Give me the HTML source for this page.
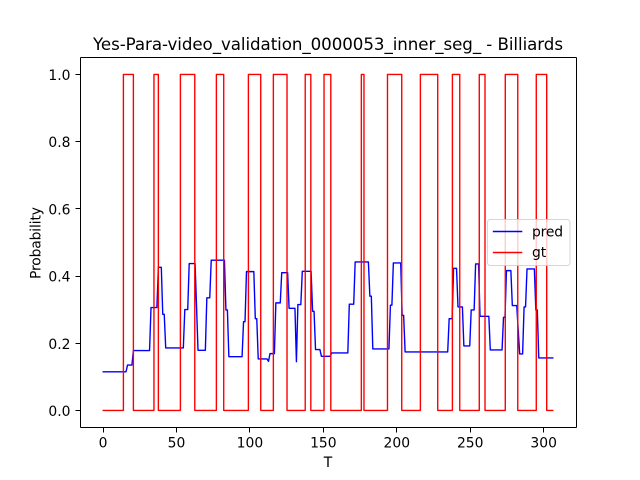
<!DOCTYPE html>
<html lang="en">
<head>
<meta charset="utf-8">
<title>Yes-Para-video_validation_0000053_inner_seg_ - Billiards</title>
<style>
html,body{margin:0;padding:0;background:#fff;width:640px;height:480px;overflow:hidden}
svg{display:block}
text{font-family:"DejaVu Sans","Liberation Sans",sans-serif;fill:#000}
</style>
</head>
<body>
<svg id="chart" xmlns="http://www.w3.org/2000/svg" width="640" height="480" viewBox="0 0 640 480">
<rect x="0" y="0" width="640" height="480" fill="#fff"/>
<text x="328" y="50" font-size="16.67" text-anchor="middle" textLength="470" lengthAdjust="spacing">Yes-Para-video_validation_0000053_inner_seg_ - Billiards</text>
<text x="328" y="467" font-size="13.89" text-anchor="middle">T</text>
<text transform="translate(40.5,243) rotate(-90)" font-size="13.89" text-anchor="middle" textLength="72" lengthAdjust="spacing">Probability</text>
<g id="ticks"></g>
<g id="series"></g>
<g id="spines" stroke="#000" stroke-width="1" fill="none" shape-rendering="crispEdges">
<line x1="80.5" y1="57.5" x2="80.5" y2="427.5"/>
<line x1="576.5" y1="57.5" x2="576.5" y2="427.5"/>
<line x1="80.5" y1="57.5" x2="576.5" y2="57.5"/>
<line x1="80.5" y1="427.5" x2="576.5" y2="427.5"/>
</g>
<g>
<rect x="487.5" y="219.5" width="82.5" height="46" rx="2.8" ry="2.8" fill="#fff" fill-opacity="0.8" stroke="#ccc" stroke-opacity="0.8" stroke-width="1"/>
<line x1="492.8" y1="231.5" x2="522.3" y2="231.5" stroke="#0000ff" stroke-width="1.39"/>
<text x="532" y="236.5" font-size="13.89" textLength="31" lengthAdjust="spacing">pred</text>
<line x1="492.8" y1="252.5" x2="522.3" y2="252.5" stroke="#ff0000" stroke-width="1.39"/>
<text x="532" y="257" font-size="13.89">gt</text>
</g>
</svg>
<script>
var xTicks = [0, 50, 100, 150, 200, 250, 300];
var yTicks = [0, 0.2, 0.4, 0.6, 0.8, 1.0];
var yTickLabels = ["0.0", "0.2", "0.4", "0.6", "0.8", "1.0"];
var predT = [0,16,17,20,21,32,33,37,38,40,41,42,43,55,56,58,59,63,65,70,71,73,74,83,84,85,86,95,96,97,98,103,104,105,106,112,113,114,117,118,121,122,126,127,131,132,133,135,136,142,143,144,145,148,149,155,156,167,168,171,172,181,182,183,184,195,196,197,198,203,204,205,206,235,236,238,239,241,242,245,246,250,251,253,254,256,257,263,264,272,273,274,275,278,279,282,284,286,287,288,289,294,295,296,297,307];
var predV = [0.115,0.115,0.135,0.135,0.178,0.178,0.306,0.306,0.426,0.426,0.286,0.286,0.186,0.186,0.300,0.300,0.437,0.437,0.179,0.179,0.335,0.335,0.447,0.447,0.299,0.299,0.160,0.160,0.264,0.264,0.413,0.413,0.273,0.273,0.153,0.153,0.146,0.169,0.169,0.320,0.320,0.410,0.410,0.304,0.304,0.145,0.315,0.315,0.414,0.414,0.295,0.295,0.181,0.181,0.161,0.161,0.171,0.171,0.316,0.316,0.442,0.442,0.340,0.340,0.183,0.183,0.313,0.313,0.439,0.439,0.283,0.283,0.174,0.174,0.273,0.273,0.423,0.423,0.308,0.308,0.192,0.192,0.299,0.299,0.436,0.436,0.280,0.280,0.180,0.180,0.277,0.277,0.416,0.416,0.312,0.312,0.168,0.168,0.308,0.308,0.421,0.421,0.299,0.299,0.156,0.156];
var gtT = [0,14.2,14.2,21,21,35,35,38,38,53,53,62.8,62.8,77.5,77.5,82.5,82.5,99.3,99.3,107.7,107.7,116.3,116.3,125.6,125.6,138,138,141.8,141.8,150.8,150.8,155.4,155.4,176.2,176.2,178,178,194,194,203.7,203.7,216.4,216.4,228.2,228.2,238.2,238.2,243.2,243.2,256.5,256.5,260.4,260.4,274.2,274.2,282.7,282.7,295.3,295.3,302.4,302.4,307];
var gtV = [0,0,1,1,0,0,1,1,0,0,1,1,0,0,1,1,0,0,1,1,0,0,1,1,0,0,1,1,0,0,1,1,0,0,1,1,0,0,1,1,0,0,1,1,0,0,1,1,0,0,1,1,0,0,1,1,0,0,1,1,0,0];

var NS = 'http://www.w3.org/2000/svg';
var AX = {left: 80, right: 576, top: 57.6, bottom: 427.2};
var tMin = 0, tMax = 307, vMin = 0, vMax = 1, pad = 0.05;
function xScale(t) {
  var span = (tMax - tMin) * (1 + 2 * pad);
  return AX.left + (t - tMin + (tMax - tMin) * pad) / span * (AX.right - AX.left);
}
function yScale(v) {
  var span = (vMax - vMin) * (1 + 2 * pad);
  return AX.bottom - (v - vMin + (vMax - vMin) * pad) / span * (AX.bottom - AX.top);
}
function snap(p) { return Math.floor(p + 0.5) + 0.5; }
function lineEl(x1, y1, x2, y2) {
  var l = document.createElementNS(NS, 'line');
  l.setAttribute('x1', x1); l.setAttribute('y1', y1);
  l.setAttribute('x2', x2); l.setAttribute('y2', y2);
  l.setAttribute('stroke', '#000');
  l.setAttribute('stroke-width', '1');
  l.setAttribute('shape-rendering', 'crispEdges');
  return l;
}
function textEl(x, y, str, anchor) {
  var t = document.createElementNS(NS, 'text');
  t.setAttribute('x', x); t.setAttribute('y', y);
  t.setAttribute('font-size', '13.89');
  t.setAttribute('text-anchor', anchor);
  t.textContent = str;
  return t;
}
var ticksG = document.getElementById('ticks');
xTicks.forEach(function (tv) {
  var x = snap(xScale(tv));
  var tick = lineEl(x, 427.5, x, 432.5);
  
  
  ticksG.appendChild(tick);
  var label = textEl(xScale(tv) + 0.5, 447.5, String(tv), 'middle');
  
  
  ticksG.appendChild(label);
});
yTicks.forEach(function (tv, i) {
  var y = Math.floor(yScale(tv)) + 0.5;
  var tick = lineEl(75.5, y, 80.5, y);
  
  
  ticksG.appendChild(tick);
  var label = textEl(70.5, yScale(tv) + 5.6, yTickLabels[i], 'end');
  
  
  ticksG.appendChild(label);
});
function pathD(ts, vs) {
  return ts.map(function (t, i) {
    return (i ? 'L' : 'M') + xScale(t).toFixed(2) + ' ' + yScale(vs[i]).toFixed(2);
  }).join(' ');
}
var seriesG = document.getElementById('series');
var predPath = document.createElementNS(NS, 'path');


predPath.setAttribute('d', pathD(predT, predV));
predPath.setAttribute('fill', 'none');
predPath.setAttribute('stroke', '#0000ff');
predPath.setAttribute('stroke-width', '1.39');
predPath.setAttribute('stroke-linejoin', 'round');
seriesG.appendChild(predPath);
var gtPath = document.createElementNS(NS, 'path');


gtPath.setAttribute('d', pathD(gtT, gtV));
gtPath.setAttribute('fill', 'none');
gtPath.setAttribute('stroke', '#ff0000');
gtPath.setAttribute('stroke-width', '1.39');
gtPath.setAttribute('stroke-linejoin', 'round');
seriesG.appendChild(gtPath);
</script>
</body>
</html>
